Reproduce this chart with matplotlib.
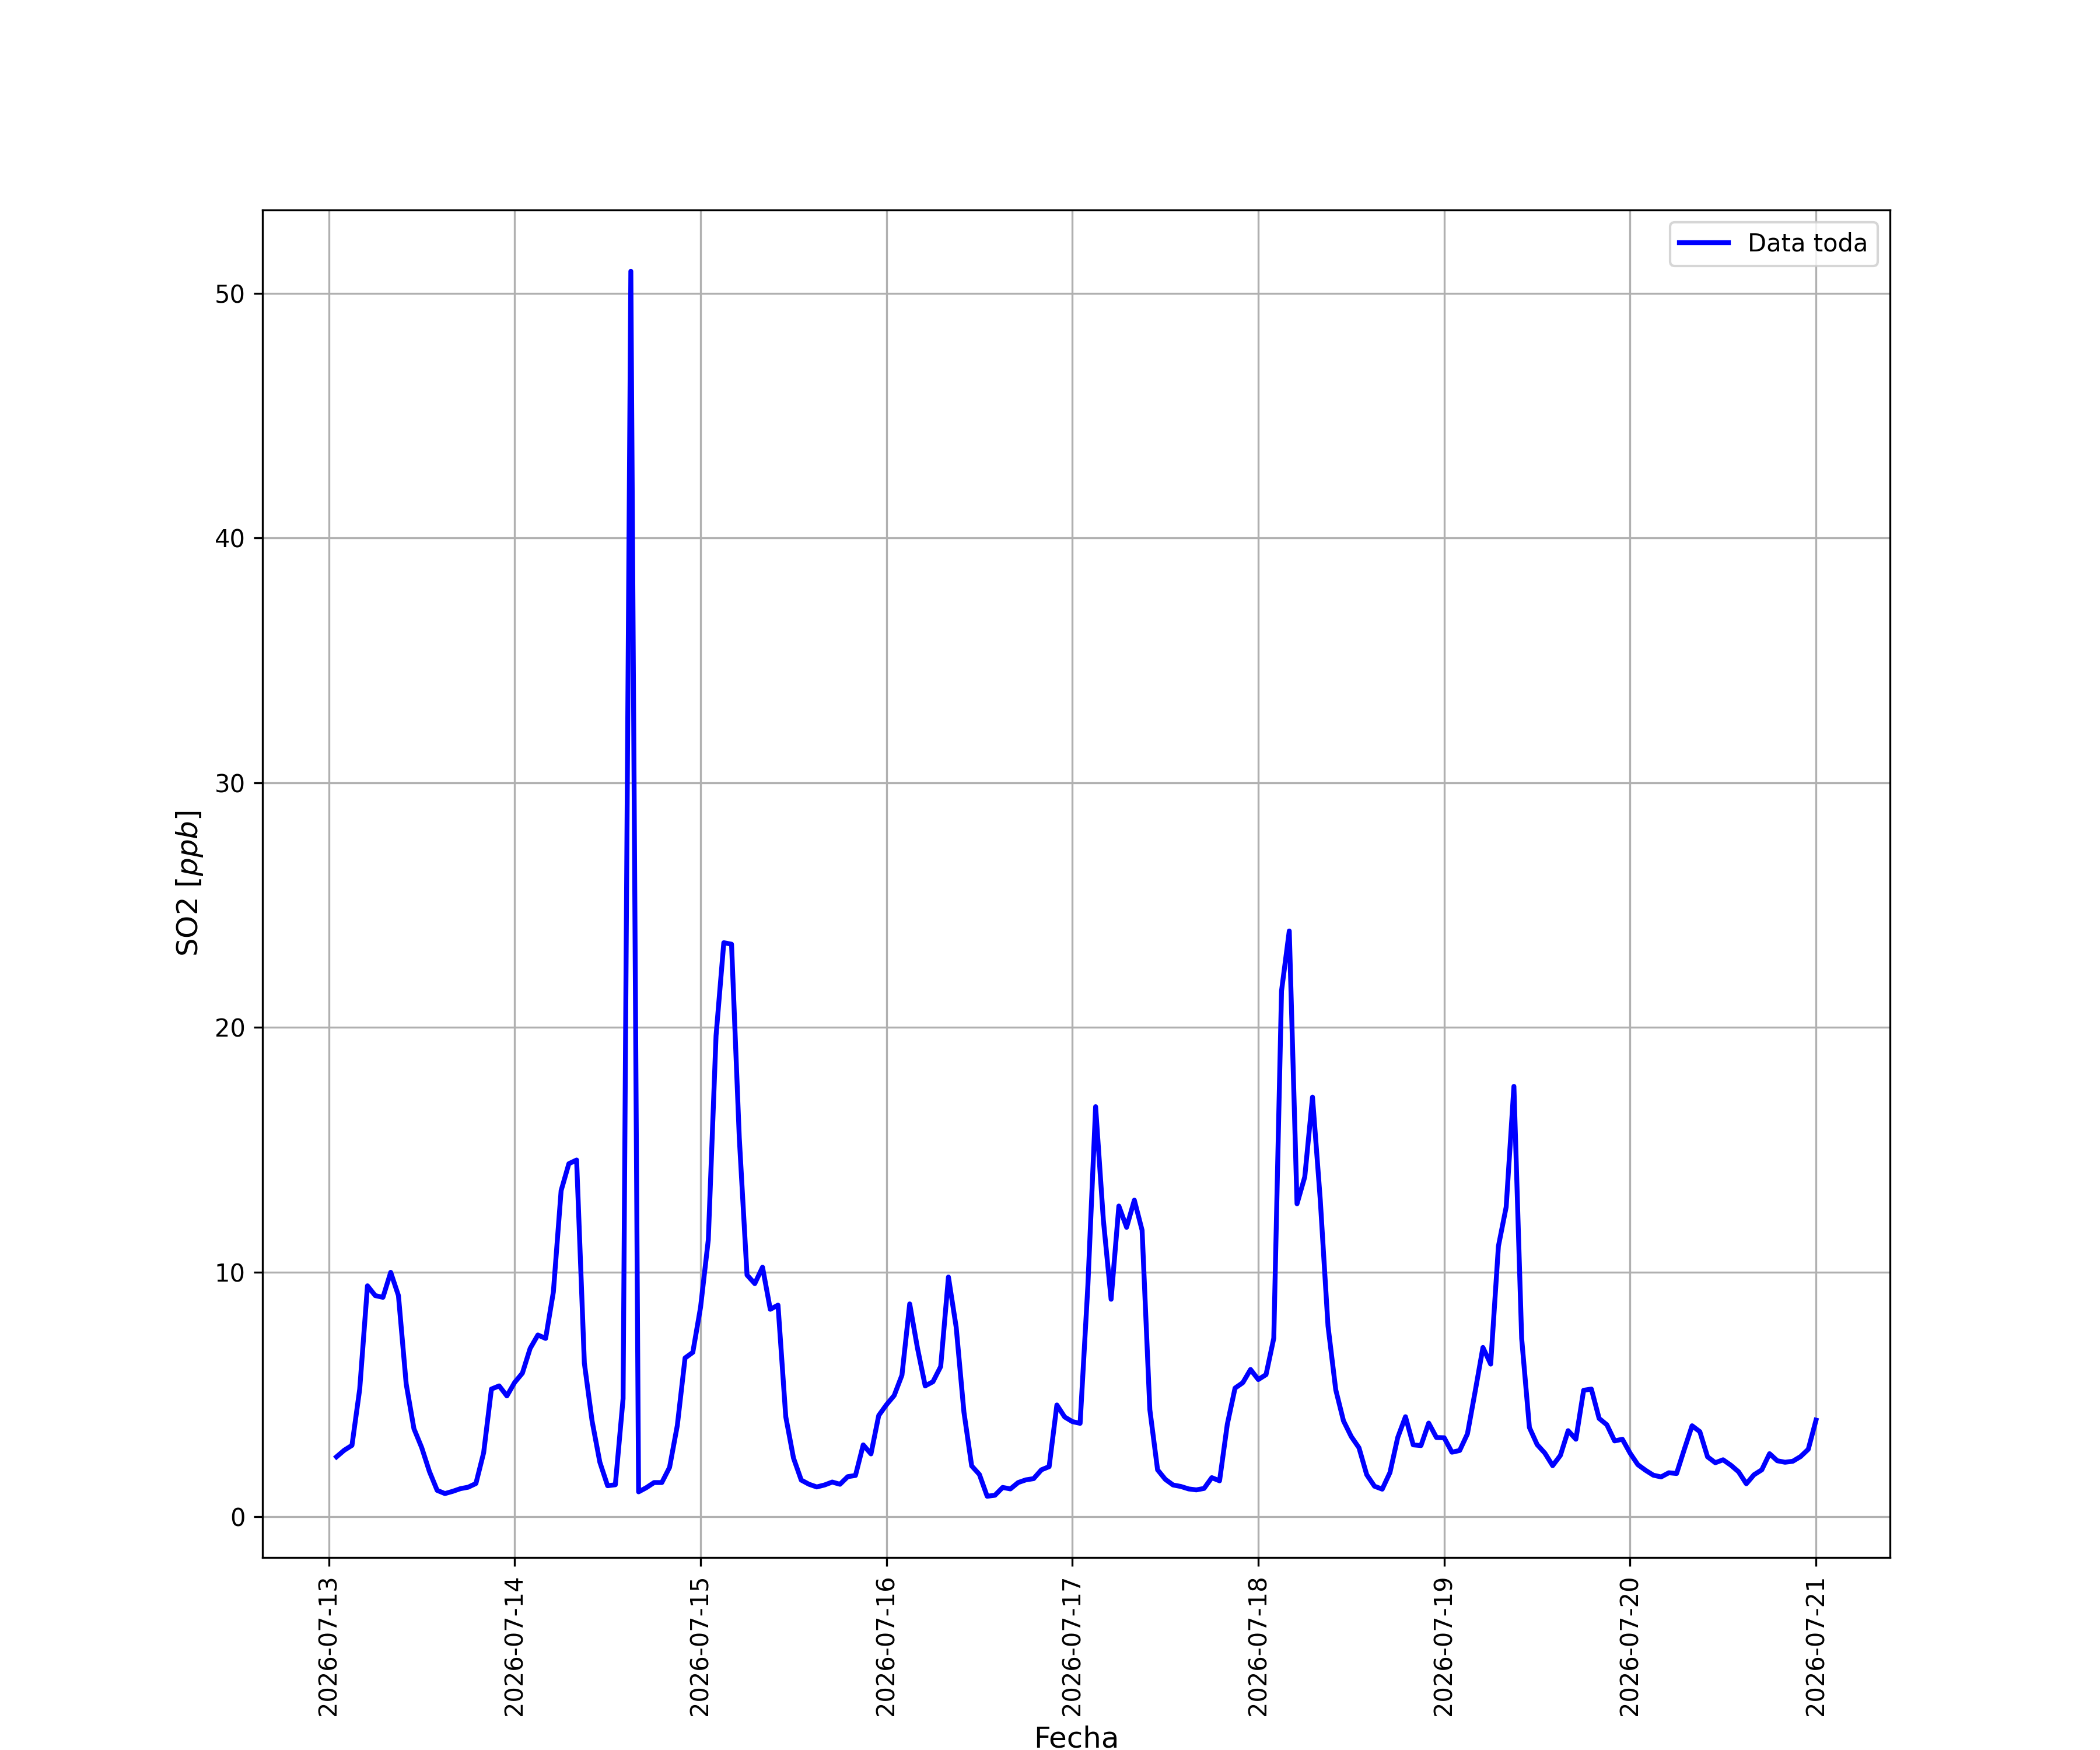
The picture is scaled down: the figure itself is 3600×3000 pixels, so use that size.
import matplotlib
matplotlib.use('Agg')
import matplotlib.pyplot as plt
import matplotlib.dates as mdates
import pandas as pd

# SO2 horario, 2026-07-13 01:00 a 2026-07-21 00:00
dia_13 = [2.45, 2.72, 2.92, 5.22, 9.44, 9.04, 8.97, 9.99, 9.04, 5.43, 3.60, 2.83,
          1.85, 1.08, 0.95, 1.04, 1.15, 1.21, 1.36, 2.62, 5.22, 5.35, 4.94]
dia_14 = [5.49, 5.87, 6.88, 7.43, 7.29, 9.19, 13.33, 14.43, 14.58, 6.28, 3.91, 2.23,
          1.27, 1.31, 4.83, 50.9, 1.02, 1.19, 1.40, 1.40, 2.02, 3.73, 6.49, 6.72]
dia_15 = [8.56, 11.32, 19.66, 23.46, 23.40, 15.49, 9.88, 9.53, 10.20, 8.48, 8.65, 4.09,
          2.40, 1.50, 1.33, 1.22, 1.30, 1.42, 1.33, 1.64, 1.69, 2.94, 2.57, 4.14]
dia_16 = [4.58, 4.96, 5.79, 8.70, 6.90, 5.35, 5.52, 6.14, 9.80, 7.75, 4.28, 2.08,
          1.73, 0.84, 0.88, 1.20, 1.14, 1.40, 1.51, 1.56, 1.92, 2.05, 4.57, 4.08]
dia_17 = [3.89, 3.82, 9.45, 16.76, 12.13, 8.89, 12.70, 11.83, 12.94, 11.71, 4.38, 1.92,
          1.53, 1.30, 1.24, 1.14, 1.10, 1.16, 1.60, 1.47, 3.78, 5.26, 5.48, 6.02]
dia_18 = [5.61, 5.81, 7.30, 21.49, 23.94, 12.79, 13.89, 17.15, 12.96, 7.80, 5.19, 3.92,
          3.28, 2.82, 1.72, 1.25, 1.13, 1.81, 3.24, 4.09, 2.94, 2.91, 3.83, 3.24]
dia_19 = [3.23, 2.64, 2.71, 3.39, 5.13, 6.92, 6.24, 11.06, 12.66, 17.59, 7.29, 3.65,
          2.95, 2.60, 2.09, 2.51, 3.52, 3.17, 5.17, 5.22, 4.02, 3.76, 3.10, 3.17]
dia_20 = [2.60, 2.13, 1.90, 1.70, 1.63, 1.80, 1.77, 2.76, 3.72, 3.48, 2.45, 2.21,
          2.33, 2.11, 1.84, 1.35, 1.72, 1.92, 2.58, 2.29, 2.23, 2.27, 2.46, 2.76]
dia_21 = [3.95]

so2 = dia_13 + dia_14 + dia_15 + dia_16 + dia_17 + dia_18 + dia_19 + dia_20 + dia_21
fechas = pd.date_range('2026-07-13 01:00', periods=len(so2), freq='h')

fig, ax = plt.subplots(figsize=(12, 10), dpi=300)
ax.plot(fechas, so2, color='blue', lw=2, label='Data toda')

ax.xaxis.set_major_locator(mdates.DayLocator())
ax.xaxis.set_major_formatter(mdates.DateFormatter('%Y-%m-%d'))
plt.setp(ax.get_xticklabels(), rotation=90)

ax.set_xlabel('Fecha', fontsize=12)
ax.set_ylabel('SO2 [$ppb$]', fontsize=12)
ax.grid(True)
ax.legend(loc='upper right')

fig.savefig('out.png', dpi=300)
